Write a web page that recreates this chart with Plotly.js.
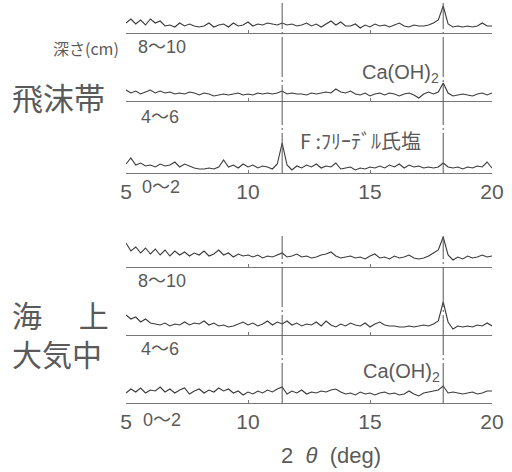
<!DOCTYPE html>
<html><head><meta charset="utf-8">
<script src="https://cdn.plot.ly/plotly-3.0.1.min.js"></script>
<style>html,body{margin:0;padding:0;background:#fff}#c{width:512px;height:472px}</style>
</head><body><div id="c"></div>
<script>
const theta = [5.0,5.2,5.4,5.6,5.8,6.0,6.2,6.4,6.6,6.8,7.0,7.2,7.4,7.6,7.8,8.0,8.2,8.4,8.6,8.8,9.0,9.2,9.4,9.6,9.8,10.0,10.2,10.4,10.6,10.8,11.0,11.2,11.4,11.6,11.8,12.0,12.2,12.4,12.6,12.8,13.0,13.2,13.4,13.6,13.8,14.0,14.2,14.4,14.6,14.8,15.0,15.2,15.4,15.6,15.8,16.0,16.2,16.4,16.6,16.8,17.0,17.2,17.4,17.6,17.8,18.0,18.2,18.4,18.6,18.8,19.0,19.2,19.4,19.6,19.8,20.0];
// 飛沫帯
const splash_8_10 = [10,14,9,13,8,14,10,12,7,8,6,10,7,9,7,6,7,10,6,8,9,6,10,7,8,11,7,9,8,10,9,8,10,8,9,7,8,10,7,9,6,9,12,8,11,7,7,9,5,8,6,9,7,8,6,8,10,7,6,8,7,7,8,10,13,27,9,6,7,6,7,6,7,10,7,7];
const splash_4_6 = [11,8,10,7,9,11,8,10,8,9,7,8,7,9,8,6,8,7,5,6,7,6,7,8,6,7,6,8,7,8,7,8,10,7,8,7,7,6,8,7,8,9,8,12,9,8,10,7,6,8,5,7,8,6,8,7,5,7,8,6,3,7,9,7,9,18,8,5,6,7,6,5,7,8,6,8];
const splash_0_2 = [9,15,8,10,7,8,6,9,7,8,11,6,9,7,5,4,4,5,4,6,13,6,8,5,9,6,8,5,7,6,4,9,30,8,3,7,5,8,6,9,5,7,6,10,4,5,6,3,5,4,6,5,7,5,8,6,9,5,8,6,7,5,6,5,6,10,6,5,6,4,6,5,7,6,11,5];
// 海上大気中
const air_8_10 = [24,16,20,14,19,13,18,12,17,11,16,12,15,11,14,12,16,11,13,17,12,14,10,13,11,12,10,12,9,11,10,12,14,10,11,13,10,11,9,10,12,13,15,11,9,10,11,9,10,8,11,13,9,10,8,11,9,10,12,9,8,9,11,14,17,30,12,7,10,8,11,9,10,12,10,11];
const air_4_6 = [20,16,18,13,16,12,11,10,12,9,11,10,13,10,12,11,14,10,12,9,10,8,9,11,13,10,12,9,11,14,10,13,11,14,10,12,9,11,10,13,9,14,10,8,11,9,12,10,9,12,8,11,13,10,9,9,8,8,9,8,9,10,9,11,14,33,13,6,9,8,9,8,10,9,12,9];
const air_0_2 = [10,14,11,15,10,13,12,16,11,14,10,13,15,9,12,14,10,13,11,15,12,14,10,12,8,11,9,12,10,13,11,14,16,9,12,10,13,9,11,10,12,11,13,14,11,9,10,8,11,9,10,8,10,11,9,10,8,9,12,9,7,10,11,12,13,17,10,11,10,9,10,11,9,10,12,12];
const tickVals = [5,10,15,20];
const peakPos = [11.4, 18.0];
const depthLabels = ['8～10','4～6','0～2'];

const series = [splash_8_10, splash_4_6, splash_0_2, air_8_10, air_4_6, air_0_2];
const baselinePx = [33,101,173,267,335,403];
const heightPx = [32,36,36,36,36,36];
const H = 472;
const TXT = '#5a5a5a';
const traces = [], layout = {
  width:512, height:472, margin:{l:126,r:20,t:0,b:0},
  paper_bgcolor:'#fff', plot_bgcolor:'rgba(0,0,0,0)', showlegend:false,
  font:{family:'Liberation Sans, Noto Sans CJK JP', color:TXT},
  shapes:[], annotations:[]
};
series.forEach((s,i)=>{
  const n = i===0 ? '' : String(i+1);
  traces.push({x:theta, y:s, type:'scatter', mode:'lines', xaxis:'x'+n, yaxis:'y'+n,
    line:{color:'#3a3a3a', width:1.1}, hoverinfo:'skip'});
  const showLab = (i===2 || i===5);
  layout['xaxis'+n] = {range:[5,20], domain:[0,1], anchor:'y'+n, showline:true, linecolor:'#777', linewidth:1.2,
    ticks:'inside', ticklen:3, tickcolor:'#777', tickvals:tickVals, showticklabels:showLab,
    tickfont:{size:21, color:TXT, family:'Liberation Sans'}, showgrid:false, zeroline:false, fixedrange:true};
  layout['yaxis'+n] = {range:[0,heightPx[i]], domain:[1-baselinePx[i]/H, 1-(baselinePx[i]-heightPx[i])/H], anchor:'x'+n,
    visible:false, fixedrange:true};
});
// vertical reference lines
const panels = [{xr:'x3', top:3, bot:173},{xr:'x6', top:236, bot:403}];
panels.forEach(p=>{
  peakPos.forEach(v=>{
    layout.shapes.push({type:'line', xref:p.xr, yref:'paper', x0:v, x1:v, y0:1-p.bot/H, y1:1-p.top/H,
      line:{color:'#555', width:1, dash:'40px,3px,2px,3px'}});
  });
});
function ann(text, xpx, ypx, size, fam, extra){
  layout.annotations.push(Object.assign({text:text, xref:'paper', yref:'paper', x:(xpx-126)/366, y:1-ypx/H,
    showarrow:false, xanchor:'center', yanchor:'middle',
    font:{size:size, color:TXT, family:fam||'Liberation Sans, Noto Sans CJK JP'}}, extra||{}));
}
const CJK = 'Noto Sans CJK JP';
ann('深さ(cm)', 86, 48, 16, CJK);
ann(depthLabels[0], 162, 47, 18); ann(depthLabels[1], 160, 117, 18); ann(depthLabels[2], 161, 187, 18);
ann(depthLabels[0], 162, 281, 18); ann(depthLabels[1], 160, 349, 18); ann(depthLabels[2], 162, 420, 18);
ann('飛沫帯', 58, 96, 31, CJK);
ann('海　 上<br>大気中', 10, 333, 30, CJK, {xanchor:'left', align:'left'});
ann('Ca(OH)<sub>2</sub>', 400, 73, 20);
ann('Ca(OH)<sub>2</sub>', 401, 372, 20);
ann('F :ﾌﾘｰﾃﾞﾙ氏塩', 360, 140, 20, CJK);
ann('2  <i>θ</i>  (deg)', 331, 455, 22);
Plotly.newPlot('c', traces, layout, {staticPlot:true, displayModeBar:false});
</script></body></html>
